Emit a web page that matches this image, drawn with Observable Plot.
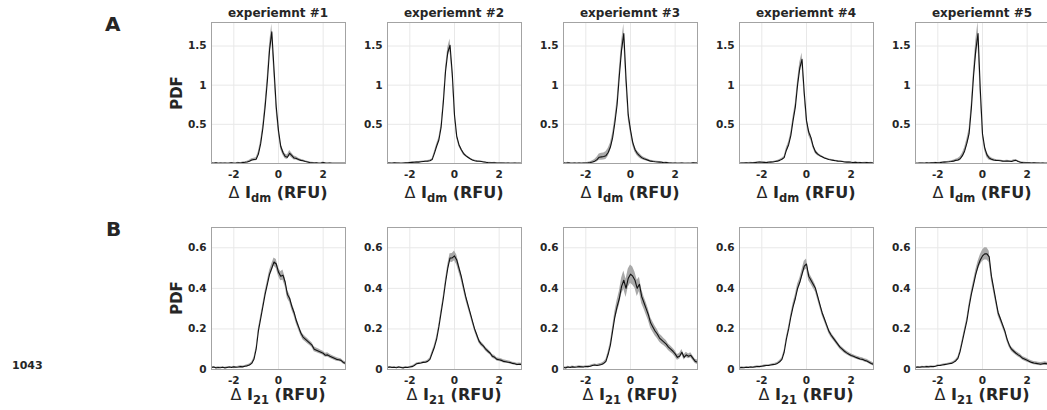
<!DOCTYPE html>
<html>
<head>
<meta charset="utf-8">
<script src="https://cdn.jsdelivr.net/npm/d3@7"></script>
<script src="https://cdn.jsdelivr.net/npm/@observablehq/plot@0.6"></script>
<style>
  html, body { margin: 0; padding: 0; background: #fff; overflow: hidden; }
  #root { position: relative; width: 1047px; height: 410px; font-family: "DejaVu Sans", sans-serif; color: #262626; }
  .abs { position: absolute; white-space: nowrap; line-height: 1; font-weight: bold; }
  .ctr { transform: translateX(-50%); }
  svg { overflow: visible; }
</style>
</head>
<body>
<div id="root"></div>
<script>
// ---- data ----
const titles = ["experiemnt #1", "experiemnt #2", "experiemnt #3", "experiemnt #4", "experiemnt #5"];
const xTicks = [-2, 0, 2];
const yTicksA = [0.5, 1, 1.5];
const yTicksB = [0, 0.2, 0.4, 0.6];
const xGrid = [-3,-2.9,-2.8,-2.7,-2.6,-2.5,-2.4,-2.3,-2.2,-2.1,-2,-1.9,-1.8,-1.7,-1.6,-1.5,-1.4,-1.3,-1.2,-1.1,-1,-0.9,-0.8,-0.7,-0.6,-0.5,-0.4,-0.3,-0.2,-0.1,0,0.1,0.2,0.3,0.4,0.5,0.6,0.7,0.8,0.9,1,1.1,1.2,1.3,1.4,1.5,1.6,1.7,1.8,1.9,2,2.1,2.2,2.3,2.4,2.5,2.6,2.7,2.8,2.9,3];

// Row A: PDF of Δ I_dm
const a1 = [0.005,0.004,0.008,0.003,0.006,0.004,0.007,0.003,0.005,0.008,0.004, 0.006,0.01,0.005,0.012,0.015, 0.02,0.03,0.045,0.05,0.055, 0.12,0.25,0.45,0.72,1.05,1.45,1.68,1.2,0.72,0.42, 0.22,0.14,0.09,0.08,0.13,0.1,0.07,0.065,0.05,0.04, 0.035,0.025,0.02,0.012,0.01,0.006,0.008,0.004,0.005,0.012, 0.006,0.004,0.006,0.002,0.002,0.002,0.002,0.002,0.002,0.002];
const a2 = [0.005,0.006,0.004,0.008,0.005,0.006,0.004,0.007,0.01,0.008,0.012, 0.014,0.016,0.02,0.018,0.022, 0.025,0.028,0.03,0.035,0.05, 0.13,0.22,0.3,0.46,0.78,1.18,1.42,1.51,1.15,0.62, 0.35,0.24,0.18,0.13,0.1,0.08,0.06,0.045,0.035,0.03, 0.028,0.025,0.02,0.015,0.012,0.01,0.008,0.01,0.006,0.007, 0.005,0.006,0.004,0.005,0.003,0.004,0.006,0.003,0.004,0.003];
const a3 = [0.008,0.004,0.01,0.006,0.003,0.007,0.002,0.005,0.004,0.006,0.005, 0.008,0.012,0.02,0.03,0.05, 0.08,0.085,0.09,0.1,0.14, 0.21,0.33,0.52,0.75,1.12,1.45,1.66,1.08,0.62,0.43, 0.27,0.18,0.13,0.1,0.075,0.06,0.05,0.04,0.03,0.025, 0.022,0.02,0.018,0.015,0.01,0.012,0.008,0.006,0.004,0.005, 0.003,0.004,0.006,0.003,0.002,0.004,0.003,0.008,0.005,0.004];
const a4 = [0.004,0.006,0.005,0.008,0.007,0.01,0.008,0.012,0.015,0.018,0.016, 0.014,0.012,0.015,0.018,0.02, 0.025,0.03,0.04,0.055,0.075, 0.17,0.24,0.36,0.55,0.72,1.0,1.22,1.33,0.9,0.55, 0.4,0.33,0.22,0.15,0.12,0.1,0.085,0.07,0.06,0.05, 0.045,0.04,0.035,0.03,0.028,0.025,0.02,0.018,0.02,0.015, 0.012,0.015,0.01,0.012,0.008,0.01,0.012,0.008,0.01,0.006];
const a5 = [0.004,0.003,0.005,0.006,0.004,0.008,0.006,0.01,0.008,0.012,0.01, 0.012,0.015,0.018,0.02,0.022, 0.025,0.03,0.04,0.045,0.06, 0.1,0.16,0.26,0.38,0.7,1.12,1.45,1.66,0.95,0.38, 0.2,0.11,0.07,0.055,0.045,0.04,0.038,0.035,0.03,0.028, 0.03,0.028,0.025,0.035,0.04,0.025,0.015,0.012,0.01,0.008, 0.01,0.006,0.008,0.005,0.006,0.004,0.005,0.003,0.004,0.003];
const a1e = [0.004,0.004,0.005,0.004,0.004,0.005,0.004,0.004,0.005,0.005,0.004, 0.005,0.006,0.005,0.007,0.008, 0.01,0.012,0.015,0.018,0.02, 0.03,0.04,0.05,0.06,0.07,0.08,0.1,0.09,0.07,0.05, 0.04,0.035,0.03,0.03,0.035,0.03,0.025,0.02,0.018,0.015, 0.012,0.01,0.01,0.008,0.007,0.006,0.006,0.005,0.005,0.008, 0.005,0.004,0.005,0.003,0.003,0.003,0.003,0.003,0.003,0.003];
const a2e = [0.004,0.004,0.004,0.004,0.004,0.004,0.004,0.004,0.004,0.004,0.004, 0.005,0.005,0.006,0.006,0.007, 0.008,0.008,0.009,0.01,0.012, 0.02,0.025,0.03,0.035,0.04,0.05,0.06,0.08,0.06,0.04, 0.03,0.025,0.022,0.02,0.015,0.012,0.01,0.01,0.009,0.008, 0.008,0.007,0.007,0.006,0.005,0.005,0.005,0.006,0.004,0.004, 0.004,0.004,0.004,0.004,0.004,0.004,0.004,0.004,0.004,0.004];
const a3e = [0.005,0.005,0.005,0.005,0.005,0.005,0.005,0.005,0.005,0.005,0.005, 0.008,0.01,0.015,0.02,0.03, 0.04,0.045,0.045,0.05,0.05, 0.05,0.055,0.06,0.07,0.08,0.1,0.12,0.08,0.06,0.05, 0.04,0.035,0.03,0.03,0.025,0.02,0.018,0.015,0.012,0.012, 0.01,0.01,0.008,0.008,0.006,0.006,0.005,0.005,0.004,0.004, 0.004,0.004,0.005,0.004,0.003,0.004,0.003,0.006,0.005,0.004];
const a4e = [0.005,0.005,0.005,0.005,0.005,0.005,0.005,0.005,0.005,0.005,0.005, 0.005,0.005,0.006,0.006,0.007, 0.008,0.009,0.01,0.012,0.015, 0.03,0.035,0.04,0.05,0.05,0.06,0.07,0.08,0.06,0.045, 0.045,0.04,0.03,0.025,0.02,0.015,0.012,0.01,0.01,0.009, 0.008,0.008,0.007,0.007,0.006,0.006,0.006,0.005,0.005,0.005, 0.005,0.005,0.005,0.005,0.005,0.005,0.005,0.005,0.005,0.005];
const a5e = [0.004,0.004,0.004,0.004,0.004,0.004,0.004,0.004,0.004,0.004,0.004, 0.005,0.005,0.006,0.007,0.008, 0.01,0.012,0.015,0.02,0.025, 0.03,0.04,0.05,0.06,0.07,0.08,0.12,0.15,0.09,0.05, 0.04,0.035,0.03,0.02,0.015,0.012,0.01,0.01,0.009,0.009, 0.01,0.01,0.01,0.012,0.012,0.01,0.008,0.006,0.005,0.005, 0.004,0.004,0.004,0.004,0.004,0.004,0.004,0.004,0.004,0.004];

// Row B: PDF of Δ I_21
const b1 = [0.01,0.012,0.008,0.01,0.009,0.011,0.008,0.01,0.012,0.01,0.013, 0.011,0.012,0.014,0.013,0.016, 0.018,0.022,0.03,0.05,0.1, 0.19,0.25,0.31,0.37,0.42,0.47,0.5,0.53,0.52,0.48, 0.46,0.465,0.43,0.37,0.35,0.31,0.28,0.24,0.21,0.18, 0.16,0.15,0.14,0.13,0.12,0.1,0.095,0.09,0.085,0.08, 0.07,0.072,0.065,0.06,0.055,0.05,0.048,0.045,0.035,0.03];
const b2 = [0.01,0.012,0.01,0.011,0.009,0.012,0.01,0.008,0.011,0.01,0.012, 0.014,0.02,0.028,0.03,0.032, 0.035,0.036,0.04,0.05,0.08, 0.11,0.15,0.21,0.28,0.35,0.43,0.5,0.55,0.55,0.56, 0.54,0.5,0.46,0.41,0.36,0.32,0.28,0.24,0.2,0.17, 0.14,0.125,0.115,0.1,0.09,0.08,0.065,0.06,0.05,0.048, 0.045,0.04,0.038,0.036,0.034,0.03,0.028,0.025,0.026,0.025];
const b3 = [0.01,0.008,0.012,0.01,0.013,0.011,0.012,0.014,0.013,0.012,0.015, 0.014,0.016,0.02,0.022,0.02, 0.022,0.025,0.03,0.04,0.075, 0.12,0.19,0.26,0.31,0.35,0.41,0.44,0.4,0.45,0.47, 0.46,0.44,0.4,0.42,0.36,0.33,0.3,0.27,0.23,0.21, 0.19,0.175,0.155,0.145,0.135,0.125,0.11,0.1,0.09,0.077, 0.06,0.065,0.085,0.06,0.072,0.065,0.07,0.055,0.04,0.036];
const b4 = [0.008,0.01,0.009,0.011,0.01,0.012,0.011,0.013,0.015,0.014,0.016, 0.018,0.02,0.02,0.022,0.024, 0.026,0.03,0.038,0.05,0.085, 0.15,0.2,0.26,0.31,0.35,0.4,0.43,0.47,0.51,0.52, 0.46,0.44,0.42,0.4,0.36,0.32,0.28,0.25,0.22,0.19, 0.17,0.155,0.14,0.125,0.11,0.1,0.09,0.082,0.075,0.069, 0.065,0.06,0.056,0.052,0.05,0.045,0.042,0.036,0.03,0.025];
const b5 = [0.01,0.012,0.011,0.013,0.012,0.014,0.013,0.015,0.014,0.016,0.02, 0.02,0.022,0.024,0.026,0.028, 0.03,0.035,0.042,0.055,0.09, 0.14,0.19,0.24,0.31,0.37,0.42,0.47,0.51,0.54,0.56, 0.57,0.57,0.555,0.46,0.4,0.34,0.28,0.25,0.22,0.19, 0.15,0.12,0.1,0.09,0.08,0.072,0.065,0.055,0.05,0.045, 0.04,0.035,0.032,0.03,0.028,0.026,0.028,0.03,0.028,0.025];
const b1e = [0.003,0.003,0.003,0.003,0.003,0.003,0.003,0.003,0.003,0.003,0.003, 0.003,0.004,0.004,0.004,0.004, 0.005,0.005,0.006,0.008,0.01, 0.012,0.012,0.012,0.014,0.016,0.018,0.02,0.02,0.022,0.02, 0.022,0.025,0.022,0.02,0.02,0.018,0.018,0.016,0.015,0.014, 0.014,0.013,0.013,0.012,0.012,0.012,0.011,0.011,0.01,0.01, 0.01,0.01,0.01,0.009,0.009,0.009,0.008,0.008,0.008,0.008];
const b2e = [0.003,0.003,0.003,0.003,0.003,0.003,0.003,0.003,0.003,0.003,0.003, 0.004,0.004,0.004,0.004,0.004, 0.005,0.005,0.006,0.007,0.009, 0.01,0.011,0.012,0.013,0.014,0.016,0.018,0.02,0.022,0.024, 0.024,0.022,0.02,0.018,0.016,0.015,0.014,0.013,0.012,0.012, 0.011,0.011,0.01,0.01,0.01,0.009,0.009,0.009,0.008,0.008, 0.008,0.008,0.007,0.007,0.007,0.006,0.006,0.006,0.006,0.006];
const b3e = [0.004,0.004,0.004,0.004,0.004,0.004,0.004,0.004,0.004,0.004,0.004, 0.005,0.005,0.005,0.005,0.005, 0.006,0.006,0.007,0.009,0.012, 0.015,0.02,0.025,0.03,0.035,0.04,0.045,0.045,0.045,0.045, 0.045,0.04,0.04,0.035,0.035,0.03,0.03,0.028,0.026,0.025, 0.024,0.022,0.02,0.02,0.018,0.018,0.016,0.016,0.015,0.015, 0.014,0.014,0.014,0.013,0.013,0.012,0.012,0.012,0.011,0.011];
const b4e = [0.003,0.003,0.003,0.003,0.003,0.003,0.003,0.003,0.003,0.003,0.003, 0.004,0.004,0.004,0.004,0.004, 0.005,0.005,0.006,0.007,0.009, 0.01,0.012,0.014,0.016,0.018,0.02,0.02,0.022,0.024,0.025, 0.022,0.02,0.02,0.018,0.016,0.015,0.014,0.013,0.013,0.012, 0.012,0.011,0.011,0.01,0.01,0.01,0.01,0.009,0.009,0.009, 0.008,0.008,0.008,0.008,0.008,0.008,0.008,0.008,0.008,0.008];
const b5e = [0.003,0.003,0.003,0.003,0.003,0.003,0.003,0.003,0.003,0.003,0.003, 0.004,0.004,0.004,0.004,0.004, 0.005,0.005,0.006,0.007,0.009, 0.01,0.012,0.013,0.014,0.016,0.018,0.02,0.022,0.025,0.028, 0.03,0.03,0.028,0.022,0.02,0.018,0.016,0.015,0.014,0.013, 0.013,0.012,0.011,0.011,0.01,0.01,0.01,0.009,0.009,0.009, 0.008,0.008,0.008,0.008,0.008,0.008,0.008,0.008,0.008,0.008];

const rowA = {vals: [a1, a2, a3, a4, a5], errs: [a1e, a2e, a3e, a4e, a5e], yDomain: [0, 1.8], yTicks: yTicksA, sub: "dm"};
const rowB = {vals: [b1, b2, b3, b4, b5], errs: [b1e, b2e, b3e, b4e, b5e], yDomain: [0, 0.7], yTicks: yTicksB, sub: "21"};

// ---- layout ----
const root = document.getElementById("root");
const PW = 134, X0 = 211, DX = 176;
const ML = 45, MR = 12, MT = 6, MB = 22;

function addDiv(html, style, cls) {
  const d = document.createElement("div");
  d.className = "abs " + (cls || "");
  d.innerHTML = html;
  Object.assign(d.style, style);
  root.appendChild(d);
  return d;
}

function drawRow(row, top, plotH, showTitles, labelTop) {
  row.vals.forEach((vals, k) => {
    const data = xGrid.map((x, i) => ({x, y: vals[i], e: row.errs[k][i]}));
    const left = X0 + k * DX;
    const svg = Plot.plot({
      width: PW + ML + MR,
      height: plotH + MT + MB,
      marginLeft: ML, marginRight: MR, marginTop: MT, marginBottom: MB,
      style: {fontFamily: "DejaVu Sans, sans-serif", fontSize: "10.5px", fontWeight: "bold", color: "#262626", background: "transparent"},
      x: {domain: [-3, 3]},
      y: {domain: row.yDomain},
      marks: [
        Plot.gridX(xTicks, {stroke: "#e8e8e8", strokeOpacity: 1}),
        Plot.gridY(row.yTicks.filter(t => t > 0), {stroke: "#e8e8e8", strokeOpacity: 1}),
        Plot.areaY(data, {x: "x", y1: d => Math.max(0, d.y - d.e), y2: d => d.y + d.e, fill: "#a9a9a9", clip: true}),
        Plot.lineY(data, {x: "x", y: "y", stroke: "#111", strokeWidth: 1.1, clip: true}),
        Plot.frame({stroke: "#a3a3a3"}),
        Plot.axisX(xTicks, {tickSize: 0, tickPadding: 7, tickFormat: d => String(d), label: null, fill: "#262626"}),
        Plot.axisY(row.yTicks, {tickSize: 0, tickPadding: 5, tickFormat: d => String(d), label: null, fill: "#262626"})
      ]
    });
    svg.style.position = "absolute";
    svg.style.left = (left - ML) + "px";
    svg.style.top = (top - MT) + "px";
    root.appendChild(svg);

    const cx = left + PW / 2;
    if (showTitles) addDiv(titles[k], {left: cx + "px", top: "7px", fontSize: "12px"}, "ctr");
    addDiv(`<span style="font-weight:normal">\u0394</span> I<sub style="font-size:0.72em;vertical-align:-0.35em;line-height:0">${row.sub}</sub> (RFU)`,
      {left: cx + "px", top: labelTop + "px", fontSize: "16px", lineHeight: "14px"}, "ctr");
  });
  addDiv("PDF", {left: "177px", top: (top + plotH / 2) + "px", fontSize: "15px", transform: "translate(-50%,-50%) rotate(-90deg)"});
}

drawRow(rowA, 22, 141, true, 186);
drawRow(rowB, 227, 142, false, 388);

addDiv("A", {left: "105px", top: "14px", fontSize: "20px"});
addDiv("B", {left: "106px", top: "219px", fontSize: "20px"});
addDiv("1043", {left: "12px", top: "360px", fontSize: "11px"});
</script>
</body>
</html>
